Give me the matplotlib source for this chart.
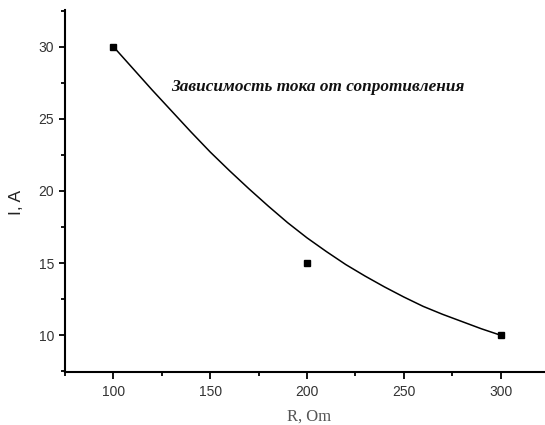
import matplotlib
matplotlib.use("Agg")
import matplotlib.pyplot as plt
from matplotlib.ticker import MultipleLocator

# measured points
r_data = [100, 200, 300]
i_data = [30, 15, 10]

# smooth curve
r_fit = [100, 110, 120, 130, 140, 150, 160, 170, 180, 190, 200,
         210, 220, 230, 240, 250, 260, 270, 280, 290, 300]
i_fit = [30.0, 28.5, 27.0, 25.55, 24.1, 22.7, 21.4, 20.15, 18.95, 17.8, 16.75,
         15.8, 14.9, 14.1, 13.35, 12.65, 12.0, 11.45, 10.95, 10.45, 10.0]

title = "Зависимость тока от сопротивления"

fig = plt.figure(figsize=(5.45, 4.25), dpi=100)
ax = fig.add_axes([0.1193, 0.1247, 0.888, 0.852])

ax.plot(r_fit, i_fit, color="black", lw=1.1, zorder=2)
ax.plot(r_data, i_data, "s", color="black", markersize=5, zorder=3)

ax.set_xlim(75, 325)
ax.set_ylim(7.45, 32.55)

ax.xaxis.set_major_locator(MultipleLocator(50))
ax.xaxis.set_minor_locator(MultipleLocator(25))
ax.yaxis.set_major_locator(MultipleLocator(5))
ax.yaxis.set_minor_locator(MultipleLocator(2.5))

for s in ["top", "right"]:
    ax.spines[s].set_visible(False)
for s in ["left", "bottom"]:
    ax.spines[s].set_linewidth(1.5)

ax.tick_params(axis="x", which="major", direction="out", length=5, width=1.3, pad=4,
               labelsize=10, labelcolor="#333333")
ax.tick_params(axis="x", which="minor", direction="out", length=3, width=1.3)
ax.tick_params(axis="y", which="major", direction="out", length=4, width=1.3, pad=4,
               labelsize=10, labelcolor="#333333")
ax.tick_params(axis="y", which="minor", direction="out", length=3, width=1.3)
for lab in ax.get_xticklabels() + ax.get_yticklabels():
    lab.set_family("Liberation Sans")

ax.set_ylabel("I, A", family="Liberation Sans", fontsize=12.5, color="#222222")
ax.yaxis.set_label_coords(-0.085, 0.467)
ax.set_xlabel("R, Om", family="Liberation Serif", fontsize=12, color="#555555",
              va="center")
ax.xaxis.set_label_coords(0.505, -0.122)

ax.text(205.4, 27.2, title, family="Liberation Serif", style="italic", weight="bold",
        fontsize=12.4, color="#111111", ha="center", va="center")

fig.savefig("out.png", dpi=100)
